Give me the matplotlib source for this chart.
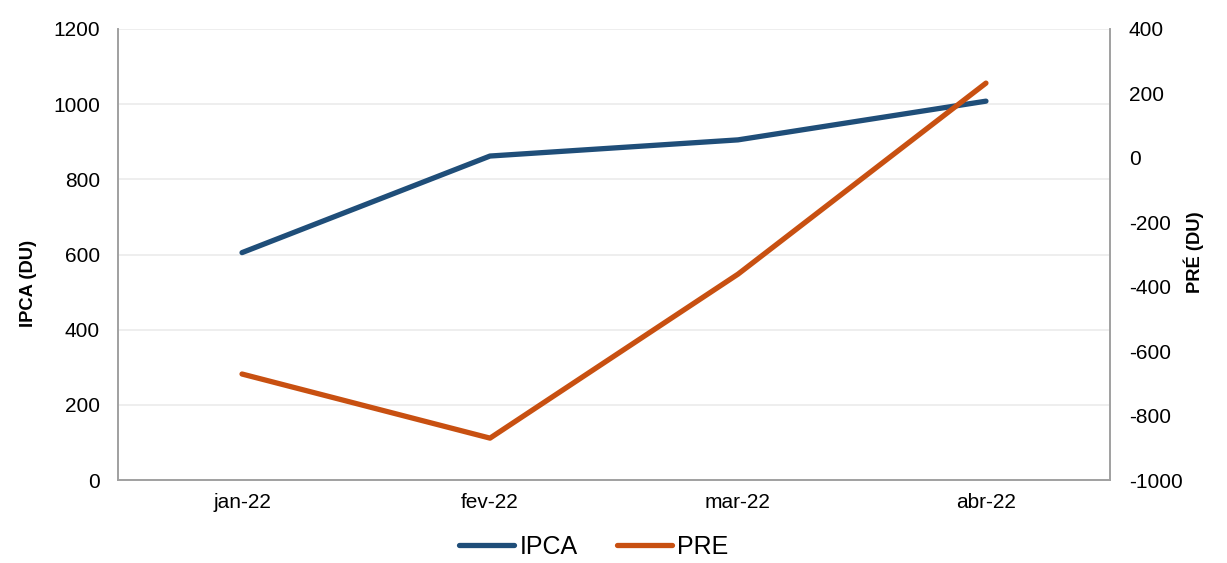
import matplotlib
matplotlib.use("Agg")
import matplotlib.pyplot as plt

plt.rcParams['font.family'] = ['Liberation Sans', 'DejaVu Sans']
plt.rcParams['axes.unicode_minus'] = False

categories = ["jan-22", "fev-22", "mar-22", "abr-22"]
ipca = [605, 862, 905, 1008]
pre = [-671, -870, -361, 232]

fig = plt.figure(figsize=(12.27, 5.63), dpi=100)
ax = fig.add_axes([0.0962, 0.1474, 0.8084, 0.8011])
ax2 = ax.twinx()

x = list(range(len(categories)))
l1, = ax.plot(x, ipca, color="#1F4E79", lw=3.8, solid_capstyle="round", label="IPCA", zorder=3)
l2, = ax2.plot(x, pre, color="#C85011", lw=3.8, solid_capstyle="round", label="PRE", zorder=3)

ax.set_xlim(-0.5, 3.5)
ax.set_ylim(0, 1200)
ax.set_yticks(range(0, 1201, 200))
ax2.set_ylim(-1000, 400)
ax2.set_yticks(range(-1000, 401, 200))
ax.set_xticks(x)
ax.set_xticklabels(categories)

ax.grid(axis='y', color="#EBEBEB", lw=1.2)
ax.set_axisbelow(True)

for a in (ax, ax2):
    a.spines['top'].set_visible(False)
    for s in ('left', 'right', 'bottom'):
        a.spines[s].set_color("#A0A0A0")
        a.spines[s].set_linewidth(1.2)
    a.tick_params(length=0, labelsize=15, colors="black")
ax.tick_params(axis='y', pad=13)
ax2.tick_params(axis='y', pad=13.5)
ax.tick_params(axis='x', pad=9)

ax.set_ylabel("IPCA (DU)", fontsize=13.2, fontweight='bold')
ax.yaxis.set_label_coords(-0.0817, 0.4357)
ax2.set_ylabel("PRÉ (DU)", fontsize=13.2, fontweight='bold')
ax2.yaxis.set_label_coords(1.0746, 0.5044)

fig.legend(handles=[l1, l2], loc='center', bbox_to_anchor=(594 / 1227, 16 / 563), ncol=2,
           frameon=False, fontsize=18, handlelength=2.2, columnspacing=1.6, handletextpad=0.2,
           borderpad=0)

fig.savefig("out.png", dpi=100)
